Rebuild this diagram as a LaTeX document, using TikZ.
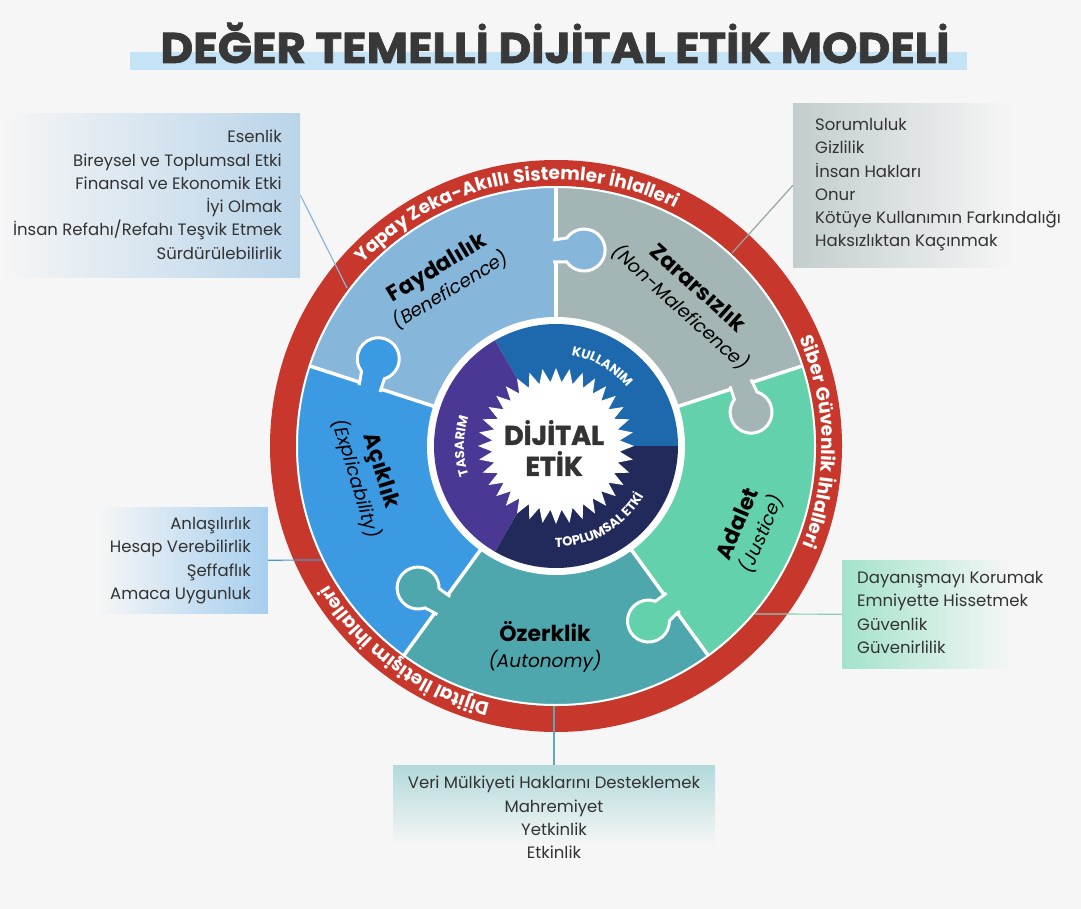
\documentclass[tikz,border=0pt]{standalone}
\usepackage{fontspec}
\setmainfont{Poppins}
\newfontfamily\titlefnt{Poppins}[BoldFeatures={FakeBold=1.5}]
\usetikzlibrary{decorations.text}
\definecolor{bg}{HTML}{F6F6F6}
\definecolor{titlegray}{HTML}{383838}
\definecolor{titlebar}{HTML}{C4E3F6}
\definecolor{txtgray}{HTML}{333333}
\definecolor{fay}{HTML}{86B6D9}
\definecolor{zar}{HTML}{A3B5B5}
\definecolor{ada}{HTML}{63D2AC}
\definecolor{oze}{HTML}{4FA7AE}
\definecolor{aci}{HTML}{3B9AE1}
\definecolor{ringred}{HTML}{C7372C}
\definecolor{kul}{HTML}{1E69AE}
\definecolor{tas}{HTML}{4A3894}
\definecolor{topc}{HTML}{212A5A}
\definecolor{boxA}{HTML}{B9D4E9}
\definecolor{boxB}{HTML}{C3CDCD}
\definecolor{boxC}{HTML}{A6CEEE}
\definecolor{boxD}{HTML}{A3E3CB}
\definecolor{boxE}{HTML}{B2D9DA}
\definecolor{lnA}{HTML}{8AB6D4}
\definecolor{lnB}{HTML}{9AA6A6}
\definecolor{lnC}{HTML}{4C96D0}
\definecolor{lnD}{HTML}{86CDB5}
\definecolor{lnE}{HTML}{5AAAB0}
\newcommand\ringfnt{\fontsize{18.5}{18.5}\selectfont\bfseries}
\newcommand\diskfnt{\fontsize{13}{13}\selectfont\bfseries}
\begin{document}
\begin{tikzpicture}[x=1pt,y=1pt,
  listtxt/.style={font=\fontsize{16.5}{23.3}\selectfont, text=txtgray, inner sep=0pt},
  listbox/.style={inner sep=0pt, draw=none},
  plabel/.style={align=center, inner sep=0pt, text=black, font=\fontsize{22}{25.5}\selectfont},
  conn/.style={line width=1.2pt},
  knobshape/.style={fill=#1, draw=white, line width=3pt},
  ringtext/.style={decorate, decoration={text along path, text align=center, text color=white, text={|\ringfnt|#1}}},
  disktext/.style={decorate, decoration={text along path, text align=center, text color=white, text={|\diskfnt|#1}}}
]
\useasboundingbox (0,0) rectangle (1081,-909);
\fill[bg] (0,0) rectangle (1081,-909);

% title
\node[fill=titlebar, minimum width=837pt, minimum height=18pt, inner sep=0pt, anchor=north west] (bar) at (130,-52) {};
\node[anchor=base, text=titlegray, inner sep=0pt, font=\titlefnt\bfseries\fontsize{43}{43}\selectfont] (title) at (555,-63) {\scalebox{1.05}[1]{DEĞER TEMELLİ DİJİTAL ETİK MODELİ}};

% list boxes
\node[listbox, minimum width=300pt, minimum height=164pt, left color=bg, right color=boxA, anchor=north west] (boxA) at (0,-113) {};
\node[listbox, minimum width=220pt, minimum height=164pt, left color=boxB, right color=bg, anchor=north west] (boxB) at (793,-103) {};
\node[listbox, minimum width=170pt, minimum height=106pt, left color=bg, right color=boxC, anchor=north east] (boxC) at (268,-507) {};
\node[listbox, minimum width=170pt, minimum height=108pt, left color=boxD, right color=bg, anchor=north west] (boxD) at (842,-560) {};
\node[listbox, minimum width=322pt, minimum height=80pt, top color=boxE, bottom color=bg, anchor=north] (boxE) at (554,-765) {};

\node[listtxt, align=right, anchor=north east] (tA) at (282,-130) {Esenlik\\Bireysel ve Toplumsal Etki\\Finansal ve Ekonomik Etki\\İyi Olmak\\İnsan Refahı/Refahı Teşvik Etmek\\Sürdürülebilirlik};
\node[listtxt, align=left, anchor=north west] (tB) at (815,-118) {Sorumluluk\\Gizlilik\\İnsan Hakları\\Onur\\Kötüye Kullanımın Farkındalığı\\Haksızlıktan Kaçınmak};
\node[listtxt, align=right, anchor=north east] (tC) at (251,-517) {Anlaşılırlık\\Hesap Verebilirlik\\Şeffaflık\\Amaca Uygunluk};
\node[listtxt, align=left, anchor=north west] (tD) at (857,-571) {Dayanışmayı Korumak\\Emniyette Hissetmek\\Güvenlik\\Güvenirlilik};
\node[listtxt, align=center, anchor=north] (tE) at (554,-776) {Veri Mülkiyeti Haklarını Desteklemek\\Mahremiyet\\Yetkinlik\\Etkinlik};

% wheel
\begin{scope}[shift={(556,-446)}]
  \fill[fay] (0,0) -- (90:262) arc[start angle=90, end angle=162, radius=262] -- cycle;
  \fill[zar] (0,0) -- (18:262) arc[start angle=18, end angle=90, radius=262] -- cycle;
  \fill[ada] (0,0) -- (-54:262) arc[start angle=-54, end angle=18, radius=262] -- cycle;
  \fill[oze] (0,0) -- (-126:262) arc[start angle=-126, end angle=-54, radius=262] -- cycle;
  \fill[aci] (0,0) -- (162:262) arc[start angle=162, end angle=234, radius=262] -- cycle;
  \foreach \a in {90,18,-54,-126,162} \draw[white, line width=3.5pt] (\a:120) -- (\a:262);
  \foreach \a/\c in {90/fay,18/zar,-54/ada,-126/oze,162/aci}{
    \begin{scope}[rotate=\a]
      \filldraw[knobshape=\c] (184,3) -- (184,-10.86) arc[start angle=124.85, end angle=415.15, radius=21] -- (206,3);
    \end{scope}
  }
  \fill[ringred, even odd rule] (0,0) circle[radius=286] (0,0) circle[radius=260];
  \draw[white, line width=2pt] (0,0) circle[radius=259];
  \fill[white] (0,0) circle[radius=129];
  \fill[kul] (0,0) -- (0:122) arc[start angle=0, end angle=120, radius=122] -- cycle;
  \fill[tas] (0,0) -- (120:122) arc[start angle=120, end angle=240, radius=122] -- cycle;
  \fill[topc] (0,0) -- (240:122) arc[start angle=240, end angle=360, radius=122] -- cycle;
  \fill[white] (0:78) \foreach \k in {0,...,35} { -- ({\k*10+5}:64) -- ({\k*10+10}:78) } -- cycle;
  % ring texts
  \path[ringtext={Yapay Zeka-Akıllı Sistemler İhlalleri}] (160:266) arc[start angle=160, end angle=40, radius=266];
  \path[ringtext={Siber Güvenlik İhlalleri}] (41:266) arc[start angle=41, end angle=-39, radius=266];
  \path[ringtext={Dijital İletişim İhlalleri}] (-86.5:266) arc[start angle=-86.5, end angle=-166.5, radius=266];
  % disk texts
  \path[disktext={KULLANIM}] (100:92) arc[start angle=100, end angle=20, radius=92];
  \path[disktext={TASARIM}] (220:92) arc[start angle=220, end angle=140, radius=92];
  \path[disktext={TOPLUMSAL ETKİ}] (-110:101) arc[start angle=-110, end angle=-10, radius=101];
\end{scope}

\node[align=center, inner sep=0pt, text=txtgray, font=\titlefnt\bfseries\fontsize{27}{31}\selectfont] (core) at (554,-448) {DİJİTAL\\ETİK};

% piece labels
\node[plabel, rotate=31] (lfay) at (444,-279) {{\bfseries Faydalılık}\\{\fontsize{18.5}{25.5}\selectfont\itshape (Beneficence)}};
\node[plabel, rotate=-42] (lzar) at (689,-298) {{\bfseries Zararsızlık}\\{\fontsize{18.5}{25.5}\selectfont\itshape (Non-Maleficence)}};
\node[plabel, rotate=-73] (laci) at (368,-475) {{\bfseries Açıklık}\\{\fontsize{18.5}{25.5}\selectfont\itshape (Explicability)}};
\node[plabel, rotate=67] (lada) at (750,-529) {{\bfseries Adalet}\\{\fontsize{18.5}{25.5}\selectfont\itshape (Justice)}};
\node[plabel] (loze) at (545,-647) {{\bfseries Özerklik}\\{\fontsize{18.5}{25.5}\selectfont\itshape (Autonomy)}};

% connectors
\coordinate (eA) at (347,-288);
\coordinate (eB) at (732,-253);
\coordinate (eC) at (321,-560);
\coordinate (eD) at (755,-614);
\coordinate (eE) at (554,-706);
\draw[conn, lnA] (boxA.east) -- (eA);
\draw[conn, lnB] (boxB.west) -- (eB);
\draw[conn, lnC] (boxC.east) -- (eC);
\draw[conn, lnD] (boxD.west) -- (eD);
\draw[conn, lnE] (boxE.north) -- (eE);
\end{tikzpicture}
\end{document}
